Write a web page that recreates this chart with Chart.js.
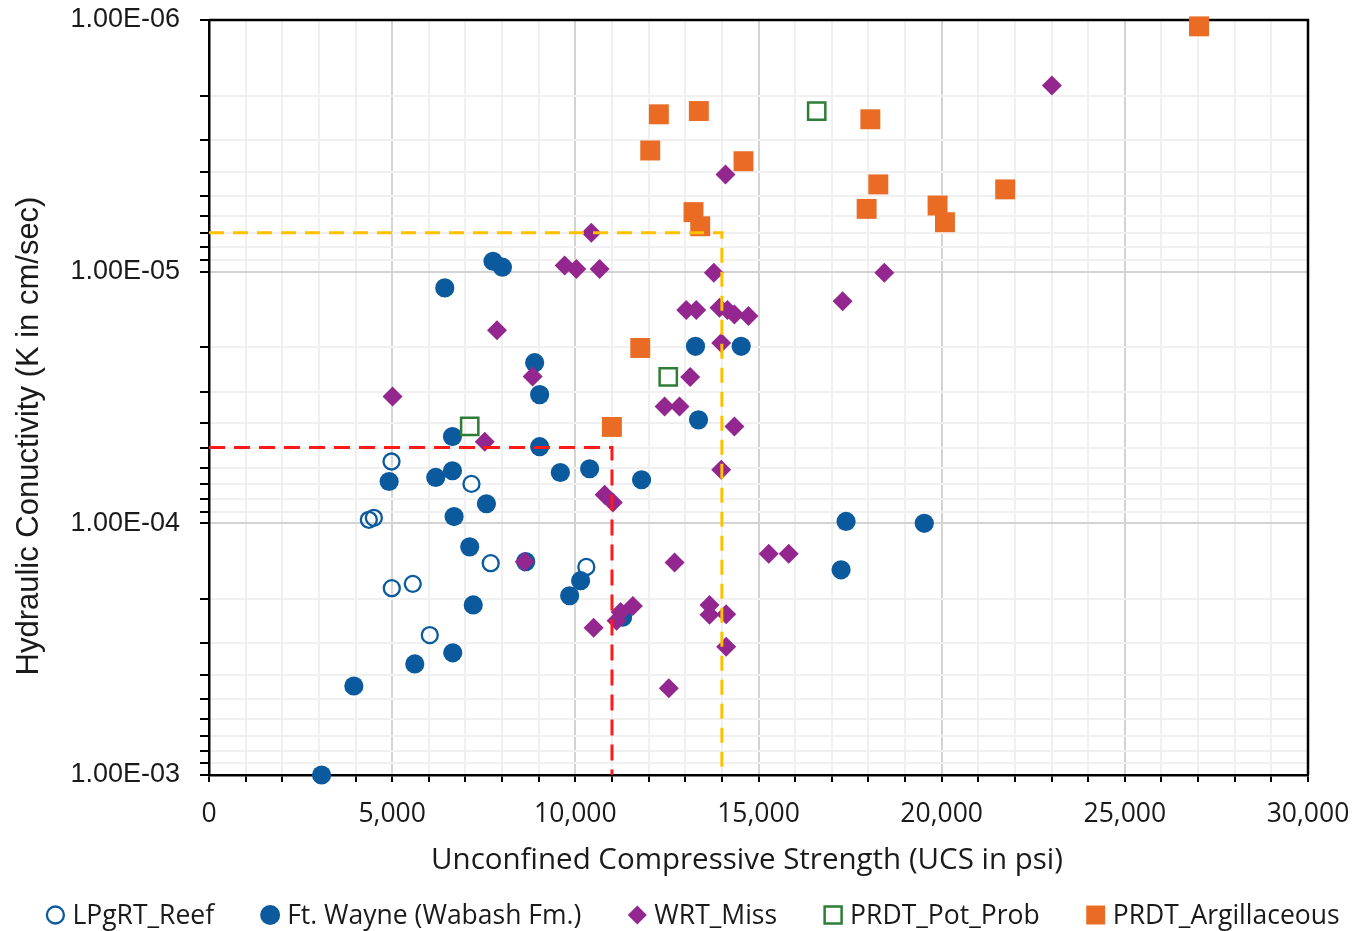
<!DOCTYPE html>
<html>
<head>
<meta charset="utf-8">
<title>UCS vs Hydraulic Conductivity</title>
<script src="https://cdn.jsdelivr.net/npm/chart.js@4.4.1/dist/chart.umd.min.js"></script>
<style>
  html, body { margin: 0; padding: 0; background: #fff; }
</style>
</head>
<body>
<canvas id="ucsChart" width="1355" height="931"></canvas>
<script>
// UCS (psi) and hydraulic conductivity K (cm/sec) per formation
var reefUcs  = [4982, 4363, 4500, 4990, 5563, 6027, 7164, 7690, 10300];
var reefK    = [5.68e-5, 9.68e-5, 9.51e-5, 1.81e-4, 1.74e-4, 2.78e-4, 6.97e-5, 1.44e-4, 1.49e-4];

var wayneUcs = [3073, 3954, 5618, 6654, 4917, 6190, 6646, 6646, 6690, 7117, 7573, 7213, 6436, 7753, 8009, 8890,
                9026, 9026, 8645, 9591, 10390, 11808, 10144, 9845, 11290, 13280, 14527, 13362, 17390, 17254, 19525];
var wayneK   = [1.0e-3, 4.43e-4, 3.62e-4, 3.27e-4, 6.82e-5, 6.57e-5, 6.18e-5, 4.52e-5, 9.40e-5, 1.24e-4, 8.36e-5, 2.11e-4, 1.16e-5, 9.09e-6, 9.60e-6, 2.30e-5,
                3.08e-5, 4.96e-5, 1.42e-4, 6.28e-5, 6.07e-5, 6.71e-5, 1.69e-4, 1.94e-4, 2.36e-4, 1.98e-5, 1.98e-5, 3.88e-5, 9.83e-5, 1.53e-4, 1.0e-4];

var missUcs  = [5010, 7862, 7527, 8835, 8617, 10436, 9708, 10027, 10663, 14099, 13780, 13027, 13300, 13935, 14153, 14344, 14726,
                13982, 13136, 12435, 12844, 14344, 13982, 10799, 11025, 12708, 15279, 15825, 18435, 17297, 23008,
                11571, 11235, 11126, 10499, 12552, 13662, 13662, 14118, 14118];
var missK    = [3.13e-5, 1.71e-5, 4.74e-5, 2.61e-5, 1.42e-4, 7.01e-6, 9.46e-6, 9.75e-6, 9.75e-6, 4.11e-6, 1.01e-5, 1.42e-5, 1.42e-5, 1.39e-5, 1.42e-5, 1.48e-5, 1.50e-5,
                1.92e-5, 2.62e-5, 3.43e-5, 3.43e-5, 4.12e-5, 6.13e-5, 7.70e-5, 8.27e-5, 1.43e-4, 1.32e-4, 1.32e-4, 1.01e-5, 1.31e-5, 1.82e-6,
                2.13e-4, 2.25e-4, 2.44e-4, 2.60e-4, 4.52e-4, 2.11e-4, 2.31e-4, 2.30e-4, 3.09e-4];

var potUcs   = [7117, 12536, 16589];
var potK     = [4.12e-5, 2.62e-5, 2.30e-6];

var argUcs   = [27025, 12280, 13371, 12045, 14590, 13226, 13409, 18053, 18271, 17952, 19888, 20090, 21734, 11772, 10998];
var argK     = [1.06e-6, 2.37e-6, 2.30e-6, 3.30e-6, 3.64e-6, 5.80e-6, 6.60e-6, 2.48e-6, 4.50e-6, 5.63e-6, 5.46e-6, 6.36e-6, 4.71e-6, 2.01e-5, 4.14e-5];

// cut-off guides
var redUcs = 11000, redK = 5e-5;
var amberUcs = 14000, amberK = 7e-6;

// axis ticks
var ucsTicks = [];
for (var u = 0; u <= 30000; u += 1000) ucsTicks.push(u);
var kDecades = [-6, -5, -4];
var kTicks = [];
kDecades.forEach(function(e){
    for (var m = 1; m <= 9; m++) kTicks.push(m * Math.pow(10, e));
});
kTicks.push(1e-3);

var xTitleText = 'Unconfined Compressive Strength (UCS in psi)';
var yTitleText = 'Hydraulic Conuctivity (K in cm/sec)';
var majorGrid = '#d3d3d3';
var minorGrid = '#f0f0f0';
var textColor = '#1a1a1a';

function zip(xs, ys){
    return xs.map(function(x, i){ return {x: x, y: ys[i]}; });
}

function isDecade(v){
    var l = Math.log10(v);
    return Math.abs(l - Math.round(l)) < 1e-6;
}

function sci(v){
    var e = Math.round(Math.log10(v));
    var m = v / Math.pow(10, e);
    return m.toFixed(2) + 'E' + (e < 0 ? '-' : '+') + String(Math.abs(e)).padStart(2, '0');
}

function guide(ucs, k, color, dash){
    return {
        label: '',
        data: [{x: 0, y: k}, {x: ucs, y: k}, {x: ucs, y: 1e-3}],
        showLine: true,
        borderColor: color,
        borderWidth: 3,
        borderDash: dash,
        pointRadius: 0,
        fill: false,
        inLegend: false,
        order: 0
    };
}

// keep tick label padding from pushing the plot area in
function noEdgePadding(s){
    s.paddingTop = 0;
    s.paddingBottom = 0;
    s.paddingLeft = 0;
    s.paddingRight = 0;
}

// frame on top and right of the plot area
var frame = {
    id: 'frame',
    beforeDatasetsDraw: function(chart){
        var a = chart.chartArea, ctx = chart.ctx;
        ctx.save();
        ctx.strokeStyle = '#000';
        ctx.lineWidth = 2.5;
        ctx.beginPath();
        ctx.moveTo(a.left, a.top);
        ctx.lineTo(a.right, a.top);
        ctx.lineTo(a.right, a.bottom);
        ctx.stroke();
        ctx.restore();
    }
};

// axis titles
var axisTitles = {
    id: 'axisTitles',
    afterDraw: function(chart){
        var ctx = chart.ctx;
        ctx.save();
        ctx.fillStyle = textColor;
        ctx.textAlign = 'center';
        ctx.textBaseline = 'middle';
        ctx.font = '29.5px "Open Sans"';
        ctx.fillText(xTitleText, 747, 861);
        ctx.translate(29, 436);
        ctx.rotate(-Math.PI / 2);
        ctx.font = '31px "Liberation Sans"';
        ctx.fillText(yTitleText, 0, 0);
        ctx.restore();
    }
};

// single row legend under the x axis title
var legendRow = {
    id: 'legendRow',
    afterDraw: function(chart){
        var ctx = chart.ctx;
        var sets = chart.data.datasets.filter(function(ds){ return ds.inLegend; });
        var gapText = 17, gapItem = 56, y = 915;
        ctx.save();
        ctx.font = '26.5px "Open Sans"';
        ctx.textBaseline = 'middle';
        var widths = sets.map(function(ds){ return ctx.measureText(ds.label).width; });
        var total = 10 + widths.reduce(function(s, w){ return s + gapText + w; }, 0) + gapItem * (sets.length - 1);
        var x = 692.5 - total / 2 + 10;
        sets.forEach(function(ds, i){
            ctx.fillStyle = ds.backgroundColor;
            ctx.strokeStyle = ds.borderColor;
            ctx.lineWidth = ds.borderWidth;
            Chart.helpers.drawPoint(ctx, {pointStyle: ds.pointStyle, radius: ds.legendRadius, borderWidth: ds.borderWidth, rotation: 0}, x, y);
            ctx.fillStyle = textColor;
            ctx.fillText(ds.label, x + gapText, y + 1);
            x += gapText + widths[i] + gapItem;
        });
        ctx.restore();
    }
};

window.onload = function(){
    var ctx = document.getElementById('ucsChart');
    new Chart(ctx, {
        type: 'scatter',
        data: {
            datasets: [
                guide(redUcs, redK, '#ff1a1a', [16, 9]),
                guide(amberUcs, amberK, '#ffc000', [15, 9]),
                {
                    label: 'LPgRT_Reef', data: zip(reefUcs, reefK),
                    pointStyle: 'circle', pointRadius: 8, legendRadius: 8.5,
                    backgroundColor: 'rgba(0,0,0,0)', borderColor: '#0b5a9e', borderWidth: 2.3,
                    inLegend: true, order: 5, clip: false
                },
                {
                    label: 'Ft. Wayne (Wabash Fm.)', data: zip(wayneUcs, wayneK),
                    pointStyle: 'circle', pointRadius: 9.6, legendRadius: 10,
                    backgroundColor: '#0b5a9e', borderColor: '#0b5a9e', borderWidth: 0,
                    inLegend: true, order: 4, clip: false
                },
                {
                    label: 'WRT_Miss', data: zip(missUcs, missK),
                    pointStyle: 'rectRot', pointRadius: 10, legendRadius: 9.5,
                    backgroundColor: '#93278f', borderColor: '#93278f', borderWidth: 0,
                    inLegend: true, order: 3, clip: false
                },
                {
                    label: 'PRDT_Pot_Prob', data: zip(potUcs, potK),
                    pointStyle: 'rect', pointRadius: 12.2, legendRadius: 12,
                    backgroundColor: 'rgba(0,0,0,0)', borderColor: '#2e7d36', borderWidth: 2.5,
                    inLegend: true, order: 2, clip: false
                },
                {
                    label: 'PRDT_Argillaceous', data: zip(argUcs, argK),
                    pointStyle: 'rect', pointRadius: 14.1, legendRadius: 13.4,
                    backgroundColor: '#ea6b24', borderColor: '#ea6b24', borderWidth: 0,
                    inLegend: true, order: 1, clip: false
                }
            ]
        },
        options: {
            responsive: false,
            animation: false,
            layout: {padding: {left: 0, right: 47, top: 20, bottom: 56}},
            plugins: {
                legend: {display: false},
                tooltip: {enabled: false}
            },
            scales: {
                x: {
                    type: 'linear',
                    min: 0,
                    max: 30000,
                    afterFit: function(s){ s.height = 100; noEdgePadding(s); },
                    afterBuildTicks: function(s){ s.ticks = ucsTicks.map(function(v){ return {value: v}; }); },
                    ticks: {
                        autoSkip: false,
                        maxRotation: 0,
                        padding: 17,
                        color: textColor,
                        font: {family: 'Open Sans', size: 26.5},
                        callback: function(v){ return v % 5000 === 0 ? v.toLocaleString('en-US') : ''; }
                    },
                    grid: {
                        color: function(c){ return (c.tick && c.tick.value % 5000 === 0) ? majorGrid : minorGrid; },
                        lineWidth: 2,
                        tickColor: '#000',
                        tickLength: 7,
                        tickWidth: 2
                    },
                    border: {color: '#000', width: 2.5},
                    title: {display: false}
                },
                y: {
                    type: 'logarithmic',
                    reverse: true,
                    min: 1e-6,
                    max: 1e-3,
                    afterFit: function(s){ s.width = 209; noEdgePadding(s); },
                    afterBuildTicks: function(s){ s.ticks = kTicks.map(function(v){ return {value: v}; }); },
                    ticks: {
                        autoSkip: false,
                        padding: 20,
                        color: textColor,
                        font: {family: 'Liberation Sans', size: 27},
                        callback: function(v){ return isDecade(v) ? sci(v) : ''; }
                    },
                    grid: {
                        color: function(c){ return (c.tick && isDecade(c.tick.value)) ? majorGrid : minorGrid; },
                        lineWidth: 2,
                        tickColor: '#000',
                        tickLength: 9,
                        tickWidth: 2
                    },
                    border: {color: '#000', width: 2.5},
                    title: {display: false}
                }
            }
        },
        plugins: [frame, axisTitles, legendRow]
    });
};
</script>
</body>
</html>
